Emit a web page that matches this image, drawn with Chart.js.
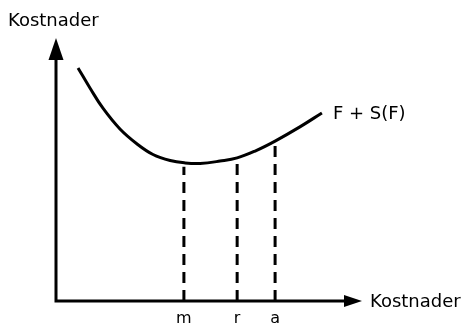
<!DOCTYPE html>
<html lang="sv">
<head>
  <meta charset="UTF-8">
  <script src="https://cdn.jsdelivr.net/npm/chart.js"></script>
  <title>Kostnader</title>
  <style>
    html, body { margin: 0; padding: 0; background: #fff; }
    #wrap { width: 466px; height: 326px; }
  </style>
</head>
<body>
<div id="wrap"><canvas id="myChart"></canvas></div>
<script>
  // kurvan F + S(F), avlast ur bilden (godtyckliga enheter 0-10)
  var kurvaX = [0.72, 1.11, 1.54, 2.09, 2.65, 3.17, 3.73, 4.22, 4.71, 5.36, 5.92, 6.54, 7.16, 7.97, 8.69]
  var kurvaY = [8.86, 8.10, 7.32, 6.54, 5.97, 5.57, 5.34, 5.25, 5.23, 5.32, 5.44, 5.72, 6.08, 6.62, 7.15]

  // streckade linjer ner till x-axeln
  var markX = [4.18, 5.92, 7.16]
  var markY = [5.25, 5.44, 6.08]
  var markNamn = ["m", "r", "a"]

  var axelTitel = "Kostnader"
  var kurvNamn = "F + S(F)"

  var kurvData = kurvaX.map(function (x, i) { return { x: x, y: kurvaY[i] } })

  var datasets = [{
    label: kurvNamn,
    data: kurvData,
    borderColor: "#000",
    borderWidth: 3,
    pointRadius: 0,
    tension: 0.4,
    fill: false,
  }]
  for (var i = 0; i < markX.length; i++) {
    datasets.push({
      label: markNamn[i],
      data: [{ x: markX[i], y: 0 }, { x: markX[i], y: markY[i] - 0.15 }],
      borderColor: "#000",
      borderWidth: 3,
      borderDash: [11, 7],
      pointRadius: 0,
      fill: false,
    })
  }

  // ritar axlarna med pilar och texterna
  var axlar = {
    id: "axlar",
    afterDatasetsDraw: function (chart) {
      var ctx = chart.ctx
      var a = chart.chartArea
      ctx.save()
      ctx.strokeStyle = "#000"
      ctx.fillStyle = "#000"
      ctx.lineWidth = 3
      ctx.lineCap = "butt"
      ctx.beginPath()
      ctx.moveTo(a.left, a.top + 15)
      ctx.lineTo(a.left, a.bottom)
      ctx.lineTo(a.right - 12, a.bottom)
      ctx.stroke()
      // pil uppat
      ctx.beginPath()
      ctx.moveTo(a.left, a.top)
      ctx.lineTo(a.left - 7.5, a.top + 22)
      ctx.lineTo(a.left + 7.5, a.top + 22)
      ctx.closePath()
      ctx.fill()
      // pil at hoger
      ctx.beginPath()
      ctx.moveTo(a.right, a.bottom)
      ctx.lineTo(a.right - 18, a.bottom - 6)
      ctx.lineTo(a.right - 18, a.bottom + 6)
      ctx.closePath()
      ctx.fill()

      ctx.font = "18px 'DejaVu Sans'"
      ctx.textBaseline = "alphabetic"
      ctx.textAlign = "left"
      ctx.fillText(axelTitel, 8, 26)
      ctx.fillText(axelTitel, a.right + 8, a.bottom + 6)
      var sx = chart.scales.x.getPixelForValue(kurvaX[kurvaX.length - 1])
      var sy = chart.scales.y.getPixelForValue(kurvaY[kurvaY.length - 1])
      ctx.fillText(kurvNamn, sx + 11, sy + 6)
      ctx.restore()
    }
  }

  const ctx = document.getElementById("myChart")
  let myChart = new Chart(ctx, {
    type: "line",
    data: { datasets: datasets },
    options: {
      responsive: true,
      maintainAspectRatio: false,
      animation: false,
      events: [],
      layout: { padding: { left: 56, right: 104, top: 38, bottom: 0 } },
      plugins: { legend: { display: false }, tooltip: { enabled: false } },
      scales: {
        x: {
          type: "linear",
          min: 0,
          max: 10,
          grid: { display: false, drawTicks: false },
          border: { display: false },
          afterBuildTicks: function (scale) {
            scale.ticks = markX.map(function (v) { return { value: v } })
          },
          afterFit: function (scale) {
            scale.height = 25
          },
          ticks: {
            color: "#000",
            padding: 8,
            maxRotation: 0,
            autoSkip: false,
            font: { family: "'DejaVu Sans'", size: 16 },
            callback: function (value, index) { return markNamn[index] }
          }
        },
        y: {
          type: "linear",
          display: false,
          min: 0,
          max: 10,
        }
      }
    },
    plugins: [axlar]
  })
</script>
</body>
</html>
